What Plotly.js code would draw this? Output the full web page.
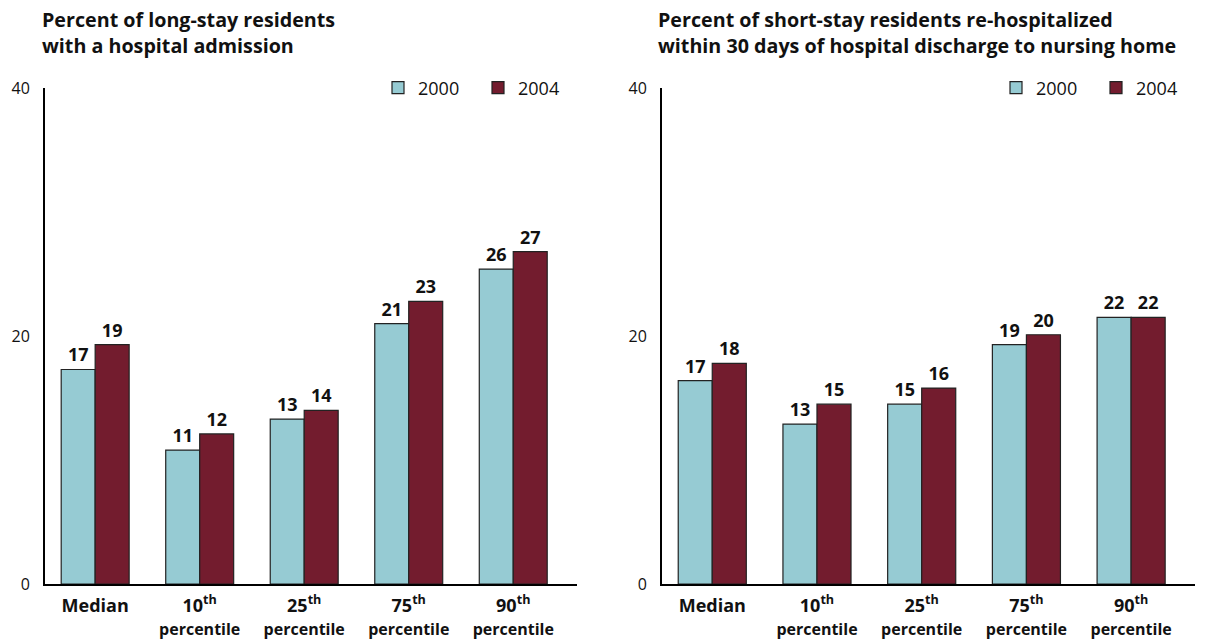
<!DOCTYPE html>
<html>
<head>
<meta charset="utf-8">
<script src="https://cdn.plot.ly/plotly-3.0.1.min.js"></script>
<style>
  body { margin: 0; background: #fff; }
  #chart { width: 1209px; height: 644px; }
</style>
</head>
<body>
<div id="chart"></div>
<script>
// categories and tick labels
var categories = ['Median', 'P10', 'P25', 'P75', 'P90']
var tickLabels = [
  '<b>Median</b>',
  '<b>10<sup>th</sup></b><br><b><span style="font-size:16px">percentile</span></b>',
  '<b>25<sup>th</sup></b><br><b><span style="font-size:16px">percentile</span></b>',
  '<b>75<sup>th</sup></b><br><b><span style="font-size:16px">percentile</span></b>',
  '<b>90<sup>th</sup></b><br><b><span style="font-size:16px">percentile</span></b>'
]

// Long-stay residents with a hospital admission (%)
var longStay2000 = [17.3, 10.8, 13.3, 21.0, 25.4]
var longStay2004 = [19.3, 12.1, 14.0, 22.8, 26.8]
var longStayText2000 = ['17', '11', '13', '21', '26']
var longStayText2004 = ['19', '12', '14', '23', '27']

// Short-stay residents re-hospitalized within 30 days (%)
var shortStay2000 = [16.4, 12.9, 14.5, 19.3, 21.5]
var shortStay2004 = [17.8, 14.5, 15.8, 20.1, 21.5]
var shortStayText2000 = ['17', '13', '15', '19', '22']
var shortStayText2004 = ['18', '15', '16', '20', '22']

var years = ['2000', '2004']
var colors = ['#96cbd3', '#731c2e']
var font = '"Open Sans", Lato, sans-serif'

function barTrace(y, txt, i, xa, ya, leg) {
  return {
    type: 'bar', x: categories, y: y, name: years[i],
    text: txt, textposition: 'outside', cliponaxis: false,
    textfont: {family: font, size: 18, color: '#111', weight: 'bold'},
    marker: {color: colors[i], line: {color: '#222', width: 1.2}},
    xaxis: xa, yaxis: ya, legend: leg,
    hoverinfo: 'skip'
  }
}

var data = [
  barTrace(longStay2000, longStayText2000, 0, 'x', 'y', 'legend'),
  barTrace(longStay2004, longStayText2004, 1, 'x', 'y', 'legend'),
  barTrace(shortStay2000, shortStayText2000, 0, 'x2', 'y2', 'legend2'),
  barTrace(shortStay2004, shortStayText2004, 1, 'x2', 'y2', 'legend2')
]

var xStyle = {
  type: 'category', categoryorder: 'array', categoryarray: categories,
  tickvals: categories, ticktext: tickLabels,
  range: [-0.48, 4.61], showline: true, linecolor: '#000', linewidth: 2,
  ticks: '', ticklabelstandoff: 4, showgrid: false, zeroline: false, fixedrange: true,
  tickfont: {family: font, size: 18, color: '#111'}
}
var yStyle = {
  range: [0, 40], tickvals: [0, 20, 40], showline: true, linecolor: '#000', linewidth: 2,
  ticks: 'outside', ticklen: 10, tickcolor: 'rgba(0,0,0,0)',
  showgrid: false, zeroline: false, fixedrange: true,
  tickfont: {family: font, size: 16, color: '#111'}
}

var W = 1209
var legendStyle = {orientation: 'h', y: 1, yanchor: 'middle', xanchor: 'left',
  entrywidth: 55, font: {family: font, size: 18, color: '#111'}, bgcolor: 'rgba(0,0,0,0)'}

var layout = {
  width: 1209, height: 644,
  margin: {l: 0, r: 0, t: 88, b: 60},
  paper_bgcolor: '#fff', plot_bgcolor: '#fff',
  barmode: 'group', bargap: 0.35, bargroupgap: 0,
  font: {family: font},
  xaxis: Object.assign({}, xStyle, {domain: [45 / W, 577 / W], anchor: 'y'}),
  yaxis: Object.assign({}, yStyle, {domain: [0, 1], anchor: 'x'}),
  xaxis2: Object.assign({}, xStyle, {domain: [662 / W, 1195 / W], anchor: 'y2'}),
  yaxis2: Object.assign({}, yStyle, {domain: [0, 1], anchor: 'x2'}),
  legend: Object.assign({}, legendStyle, {x: 378 / W}),
  legend2: Object.assign({}, legendStyle, {x: 996 / W}),
  annotations: [
    {text: '<b>Percent of long-stay residents<br>with a hospital admission</b>',
     xref: 'paper', yref: 'paper', x: 40 / W, y: 1 + 84 / 496, xanchor: 'left', yanchor: 'top',
     align: 'left', showarrow: false, font: {family: font, size: 19.7, color: '#111'}},
    {text: '<b>Percent of short-stay residents re-hospitalized<br>within 30 days of hospital discharge to nursing home</b>',
     xref: 'paper', yref: 'paper', x: 656 / W, y: 1 + 84 / 496, xanchor: 'left', yanchor: 'top',
     align: 'left', showarrow: false, font: {family: font, size: 19.7, color: '#111'}}
  ]
}

Plotly.newPlot('chart', data, layout, {displayModeBar: false, staticPlot: true})
</script>
</body>
</html>
